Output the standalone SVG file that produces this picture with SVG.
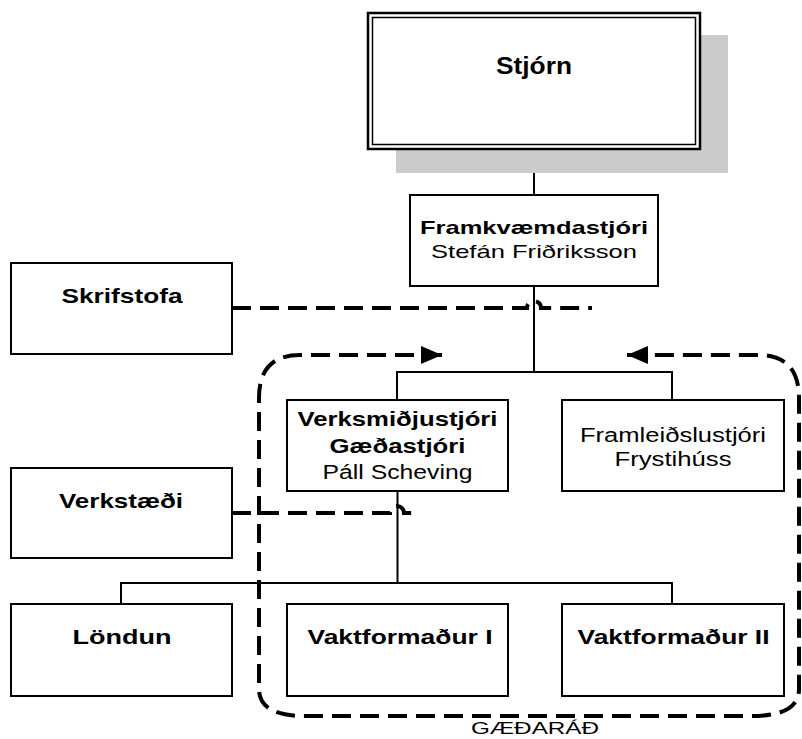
<svg xmlns="http://www.w3.org/2000/svg" width="802" height="739" viewBox="0 0 802 739">
<defs>
<style>
.box{fill:#fff;stroke:#000;stroke-width:2}
.ln{fill:none;stroke:#000;stroke-width:2}
.dash{fill:none;stroke:#000;stroke-width:4;stroke-dasharray:19 9}
.b{font-family:"Liberation Sans",Arial,sans-serif;font-weight:bold;text-anchor:middle;fill:#000}
.r{font-family:"Liberation Sans",Arial,sans-serif;text-anchor:middle;fill:#000}
</style>
<marker id="ah" markerUnits="userSpaceOnUse" markerWidth="22" markerHeight="18" refX="21" refY="9" orient="auto-start-reverse">
<path d="M0,0 L21,9 L0,18 Z" fill="#000"/>
</marker>
</defs>
<rect width="802" height="739" fill="#fff"/>
<g id="connectors">
<path class="ln" d="M534,149 V195"/>
<path class="ln" d="M534,286 V372"/>
<path class="ln" d="M397,400 V372 H672 V400"/>
<path class="ln" d="M397.5,491 V583"/>
<path class="ln" d="M121,604 V583 H672 V604"/>
<path class="dash" d="M232,308 H527 A7 7 0 0 1 541 308 H592"/>
<path class="dash" d="M232,513 H390 A7 7 0 0 1 404 513 H417"/>
<path class="dash" d="M442,355 H300 Q259,355 259,398 V689 Q259,716 305,716 H752 Q799,716 799,689 V398 Q799,355 758,355 H627" marker-start="url(#ah)" marker-end="url(#ah)"/>
</g>
<g id="stjorn">
<rect x="396" y="35" width="332" height="138" fill="#cccccc"/>
<rect x="368" y="13" width="332" height="136" fill="#fff" stroke="#000" stroke-width="2.5"/>
<rect x="372.5" y="17.5" width="323" height="127" fill="none" stroke="#000" stroke-width="1.5"/>
<text class="b" x="534" y="74" font-size="23" textLength="76" lengthAdjust="spacingAndGlyphs">Stjórn</text>
</g>
<g id="framkvaemdastjori">
<rect class="box" x="410" y="195" width="248" height="91"/>
<text class="b" x="534" y="234" font-size="19" textLength="228" lengthAdjust="spacingAndGlyphs">Framkvæmdastjóri</text>
<text class="r" x="534" y="258" font-size="19" textLength="206" lengthAdjust="spacingAndGlyphs">Stefán Friðriksson</text>
</g>
<g id="skrifstofa">
<rect class="box" x="11" y="263" width="221" height="91"/>
<text class="b" x="122" y="303" font-size="21" textLength="121" lengthAdjust="spacingAndGlyphs">Skrifstofa</text>
</g>
<g id="verkstaedi">
<rect class="box" x="11" y="468" width="221" height="90"/>
<text class="b" x="121" y="508" font-size="21" textLength="124" lengthAdjust="spacingAndGlyphs">Verkstæði</text>
</g>
<g id="verksmidjustjori">
<rect class="box" x="287" y="400" width="221" height="91"/>
<text class="b" x="397.5" y="426" font-size="20" textLength="200" lengthAdjust="spacingAndGlyphs">Verksmiðjustjóri</text>
<text class="b" x="397.5" y="453" font-size="20" textLength="136" lengthAdjust="spacingAndGlyphs">Gæðastjóri</text>
<text class="r" x="397.5" y="479" font-size="20" textLength="150" lengthAdjust="spacingAndGlyphs">Páll Scheving</text>
</g>
<g id="framleidslustjori">
<rect class="box" x="562" y="400" width="222" height="91"/>
<text class="r" x="673" y="442" font-size="20" textLength="186" lengthAdjust="spacingAndGlyphs">Framleiðslustjóri</text>
<text class="r" x="673" y="466" font-size="20" textLength="117" lengthAdjust="spacingAndGlyphs">Frystihúss</text>
</g>
<g id="londun">
<rect class="box" x="11" y="604" width="221" height="92"/>
<text class="b" x="122" y="644" font-size="21" textLength="99" lengthAdjust="spacingAndGlyphs">Löndun</text>
</g>
<g id="vaktformadur1">
<rect class="box" x="287" y="604" width="221" height="92"/>
<text class="b" x="400" y="644" font-size="21" textLength="185" lengthAdjust="spacingAndGlyphs">Vaktformaður I</text>
</g>
<g id="vaktformadur2">
<rect class="box" x="562" y="604" width="222" height="92"/>
<text class="b" x="673.5" y="644" font-size="21" textLength="192" lengthAdjust="spacingAndGlyphs">Vaktformaður II</text>
</g>
<g id="gaedarad">
<text class="r" x="535" y="734" font-size="16" textLength="128" lengthAdjust="spacingAndGlyphs">GÆÐARÁÐ</text>
</g>
</svg>
